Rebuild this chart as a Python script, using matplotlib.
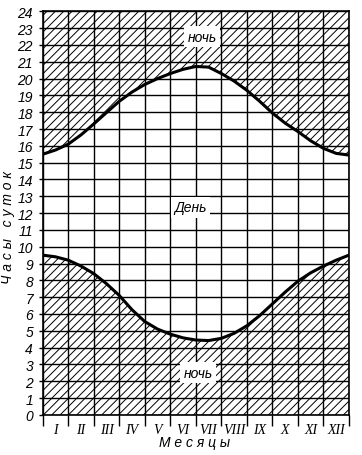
import numpy as np
import matplotlib
matplotlib.use('Agg')
import matplotlib.pyplot as plt

plt.rcParams['font.family'] = ['Liberation Sans', 'DejaVu Sans']
plt.rcParams['hatch.linewidth'] = 0.7

# months from 1 January, half-month steps
month_pos = [0, 0.5, 1, 1.5, 2, 2.5, 3, 3.5, 4, 4.5, 5, 5.5, 6,
             6.5, 7, 7.5, 8, 8.5, 9, 9.5, 10, 10.5, 11, 11.5, 12]
# sunset (upper curve), hours
sunset = [15.5, 15.75, 16.1, 16.65, 17.3, 17.98, 18.65, 19.2, 19.65, 20.0, 20.3, 20.55, 20.72,
          20.68, 20.3, 19.85, 19.3, 18.65, 17.95, 17.35, 16.85, 16.3, 15.85, 15.55, 15.45]
# sunrise (lower curve), hours
sunrise = [9.5, 9.4, 9.2, 8.85, 8.4, 7.8, 7.1, 6.25, 5.55, 5.1, 4.8, 4.58, 4.45,
           4.42, 4.55, 4.85, 5.3, 5.9, 6.6, 7.3, 7.95, 8.45, 8.85, 9.2, 9.5]

month_labels = ['I', 'II', 'III', 'IV', 'V', 'VI', 'VII', 'VIII', 'IX', 'X', 'XI', 'XII']
hour_ticks = list(range(0, 25))

fig = plt.figure(figsize=(3.62, 4.56), dpi=100)
ax = fig.add_axes([0.118, 0.088, 0.846, 0.885])

x = np.array(month_pos)
up = np.array(sunset)
lo = np.array(sunrise)

ax.fill_between(x, up, 24, facecolor='none', edgecolor='black', hatch='////', linewidth=0)
ax.fill_between(x, 0, lo, facecolor='none', edgecolor='black', hatch='////', linewidth=0)

ax.plot(x, up, color='black', lw=2.2, solid_capstyle='butt', zorder=4)
ax.plot(x, lo, color='black', lw=2.2, solid_capstyle='butt', zorder=4)

ax.set_xlim(0, 12)
ax.set_ylim(0, 24)

ax.set_xticks(range(0, 13))
ax.set_xticklabels([])
ax.set_xticks(np.arange(12) + 0.5, minor=True)
ax.set_xticklabels(month_labels, minor=True, fontstyle='italic', fontsize=10,
                   family=['Liberation Serif', 'DejaVu Serif'])
ax.tick_params(axis='x', which='major', direction='out', length=8, width=1, color='black')
ax.tick_params(axis='x', which='minor', length=0, pad=6)

ax.set_yticks(hour_ticks)
ax.set_yticklabels([str(h) for h in hour_ticks], fontstyle='italic', fontsize=10)
ax.tick_params(axis='y', direction='out', length=3, width=1, pad=4)

ax.grid(True, which='major', color='black', lw=1)
ax.set_axisbelow(False)
for s in ax.spines.values():
    s.set_linewidth(1.2)

box = dict(facecolor='white', edgecolor='none', pad=2.5)
ax.text(6.25, 22.5, 'ночь', ha='center', va='center', fontstyle='italic', fontsize=10, bbox=box, zorder=5)
ax.text(6.1, 2.5, 'ночь', ha='center', va='center', fontstyle='italic', fontsize=10, bbox=box, zorder=5)
ax.text(5.8, 12.35, 'День', ha='center', va='center', fontstyle='italic', fontsize=10, bbox=box, zorder=5)

ax.set_xlabel('М е с я ц ы', fontstyle='italic', fontsize=10, va='center')
ax.xaxis.set_label_coords(0.497, -0.068)
ax.set_ylabel('Ч а с ы   с у т о к', fontstyle='italic', fontsize=10, va='center')
ax.yaxis.set_label_coords(-0.112, 0.466)

fig.savefig('out.png', dpi=100)
